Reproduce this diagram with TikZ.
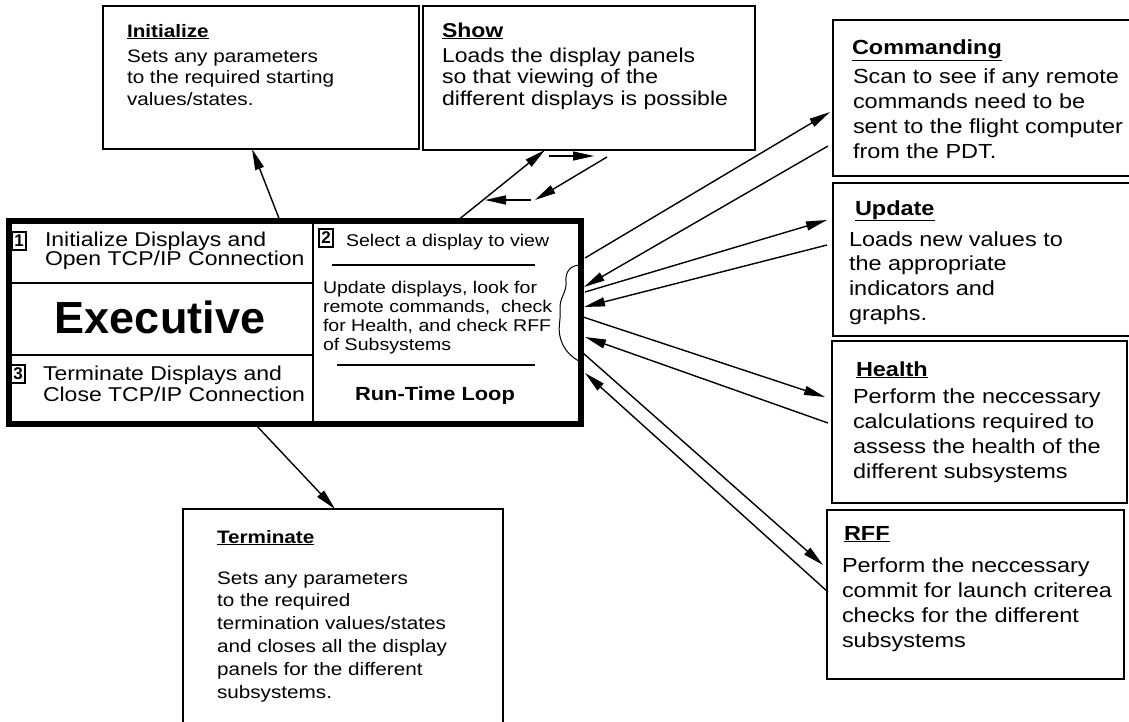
\documentclass[tikz,border=0pt]{standalone}
\usepackage{fontspec}
\setmainfont{Liberation Sans}
\newfontfamily\hv[FakeStretch=1.15]{Liberation Sans}
\newfontfamily\hvn{Liberation Sans}
\usetikzlibrary{arrows.meta,calc}
\begin{document}
\begin{tikzpicture}[x=1pt,y=-1pt,
  box/.style={draw, line width=1.3pt, anchor=north west, inner sep=0pt, outer sep=0pt},
  txt/.style={anchor=base west, inner sep=0pt, outer sep=0pt},
  con/.style={line width=1.4pt},
  arr/.style={con, -{Triangle[length=21pt,width=9pt]}},
  numbox/.style={draw, line width=1.3pt, inner sep=0pt, minimum width=14pt, minimum height=18pt, font=\hvn\bfseries\fontsize{17}{17}\selectfont},
  smalltxt/.style={font=\hv\fontsize{18}{18}\selectfont},
  showtxt/.style={font=\hv\fontsize{20}{20}\selectfont},
  exectxt/.style={font=\hv\fontsize{20}{20}\selectfont},
  looptxt/.style={font=\hv\fontsize{17}{17}\selectfont},
  sidetxt/.style={font=\hv\fontsize{20.4}{20.4}\selectfont},
]
\useasboundingbox (0,0) rectangle (1129,721);
\fill[white] (0,0) rectangle (1129,721);
\clip (0,0) rectangle (1129,721);

% ---------- boxes ----------
\node[box, minimum width=316pt, minimum height=143pt] (initbox) at (103,6) {};
\node[box, minimum width=332pt, minimum height=144pt] (showbox) at (423,6) {};
\node[box, line width=6pt, minimum width=572pt, minimum height=203pt] (exec) at (9,221) {};
\node[box, minimum width=300pt, minimum height=156pt] (cmdbox) at (833,20) {};
\node[box, minimum width=300pt, minimum height=153pt] (updbox) at (833,183) {};
\node[box, minimum width=295pt, minimum height=162pt] (hlthbox) at (832,341) {};
\node[box, minimum width=297pt, minimum height=169pt] (rffbox) at (827,510) {};
\node[box, minimum width=320pt, minimum height=230pt] (termbox) at (183,509) {};
\draw[line width=2.5pt] (hlthbox.north west) -- (hlthbox.north east);

% ---------- executive internals ----------
\draw[line width=2pt] (313,221) -- (313,424);
\draw[line width=2pt] (9,283) -- (313,283);
\draw[line width=2pt] (9,355) -- (313,355);
\draw[line width=1.3pt] (332,265) -- (535,265);
\draw[line width=1.3pt] (337,365) -- (535,365);
\draw[line width=1pt] (581,265) .. controls (570,265) and (565,272) .. (566,282)
  .. controls (567,292) and (559,298) .. (560,310)
  .. controls (561,322) and (557,328) .. (561,340)
  .. controls (564,350) and (572,358) .. (581,362);

\node[numbox] (n1) at (19,241) {1};
\node[numbox] (n2) at (326,238) {2};
\node[numbox] (n3) at (18,374) {3};

\node[txt, exectxt] (el1) at (45,246) {Initialize Displays and};
\node[txt, exectxt] (el2) at (45,265) {Open TCP/IP Connection};
\node[anchor=base, inner sep=0pt, font=\hvn\bfseries\fontsize{45}{45}\selectfont] (etitle) at (160,333) {Executive};
\node[txt, exectxt] (el3) at (43,380) {Terminate Displays and};
\node[txt, exectxt] (el4) at (43,401) {Close TCP/IP Connection};

\node[txt, looptxt] (sel) at (346,246) {Select a display to view};
\foreach \t [count=\i] in {{Update displays, look for}, {remote commands,\ \ check}, {for Health, and check RFF}, {of Subsystems}}
  \node[txt, looptxt] (loop-\i) at (323,{293+19*(\i-1)}) {\t};
\node[anchor=base, inner sep=0pt, font=\hv\bfseries\fontsize{19}{19}\selectfont] (rtl) at (435,400) {Run-Time Loop};

% ---------- top boxes text ----------
\node[txt, smalltxt] (initt) at (127,37) {\underline{\textbf{Initialize}}};
\foreach \t [count=\i] in {Sets any parameters, to the required starting, values/states.}
  \node[txt, smalltxt] (ini-\i) at (127,{62+21.5*(\i-1)}) {\t};

\node[txt, showtxt] (showt) at (442,37) {\underline{\textbf{Show}}};
\foreach \t [count=\i] in {Loads the display panels, so that viewing of the, different displays is possible}
  \node[txt, showtxt] (sho-\i) at (442,{62+21.5*(\i-1)}) {\t};

% ---------- terminate text ----------
\node[txt, smalltxt] (termt) at (217,543) {\underline{\textbf{Terminate}}};
\foreach \t [count=\i] in {Sets any parameters, to the required, termination values/states, and closes all the display, panels for the different, subsystems.}
  \node[txt, smalltxt] (ter-\i) at (217,{584+22.8*(\i-1)}) {\t};

% ---------- right boxes text ----------
\node[txt, sidetxt] (cmdt) at (852,54) {\underline{\textbf{Commanding}}};
\foreach \t [count=\i] in {Scan to see if any remote, commands need to be, sent to the flight computer, from the PDT.}
  \node[txt, sidetxt] (cmd-\i) at (853,{83+25.3*(\i-1)}) {\t};

\node[txt, sidetxt] (updt) at (855,215) {\underline{\textbf{Update}}};
\foreach \t [count=\i] in {Loads new values to, the appropriate, indicators and, graphs.}
  \node[txt, sidetxt] (upd-\i) at (849,{246+24.7*(\i-1)}) {\t};

\node[txt, sidetxt] (hlt) at (856,376) {\underline{\textbf{Health}}};
\foreach \t [count=\i] in {Perform the neccessary, calculations required to, assess the health of the, different subsystems}
  \node[txt, sidetxt] (hl-\i) at (853,{403+25.3*(\i-1)}) {\t};

\node[txt, sidetxt] (rfft) at (844,540) {\underline{\textbf{RFF}}};
\foreach \t [count=\i] in {Perform the neccessary, commit for launch criterea, checks for the different, subsystems}
  \node[txt, sidetxt] (rf-\i) at (842,{572+25*(\i-1)}) {\t};

% ---------- connectors ----------
\draw[arr] ($(exec.north west)+(271,0)$) -- ($(initbox.south west)+(149,0)$);
\draw[arr] ($(exec.north west)+(448,0)$) -- ($(showbox.south west)+(122,0)$);
\coordinate (sa1) at ($(showbox.south west)+(126,6)$);
\coordinate (sa2) at ($(showbox.south west)+(171,6)$);
\coordinate (sb1) at ($(showbox.south west)+(184,7)$);
\coordinate (sb2) at ($(showbox.south west)+(112,50)$);
\coordinate (sc1) at ($(showbox.south west)+(108,50)$);
\coordinate (sc2) at ($(showbox.south west)+(62,50)$);
\draw[arr] (sa1) -- (sa2);
\draw[arr] (sb1) -- (sb2);
\draw[arr] (sc1) -- (sc2);

\draw[arr] ($(exec.north east)+(4,37)$) -- ($(cmdbox.north west)+(-3,92)$);
\draw[arr] ($(cmdbox.north west)+(-5,126)$) -- ($(exec.north east)+(3,66)$);
\draw[arr] ($(exec.north east)+(4,71)$) -- ($(updbox.north west)+(-6,37)$);
\draw[arr] ($(updbox.north west)+(-6,62)$) -- ($(exec.north east)+(3,86)$);
\draw[arr] ($(exec.north east)+(2,96)$) -- ($(hlthbox.north west)+(-7,56)$);
\draw[arr] ($(hlthbox.north west)+(-4,82)$) -- ($(exec.north east)+(4,116)$);
\draw[arr] ($(exec.north east)+(2,132)$) -- ($(rffbox.north west)+(-4,55)$);
\draw[arr] ($(rffbox.north west)+(1,82)$) -- ($(exec.north east)+(4,152)$);

\draw[arr] ($(exec.south west)+(246,0)$) -- ($(termbox.north west)+(152,0)$);
\end{tikzpicture}
\end{document}
